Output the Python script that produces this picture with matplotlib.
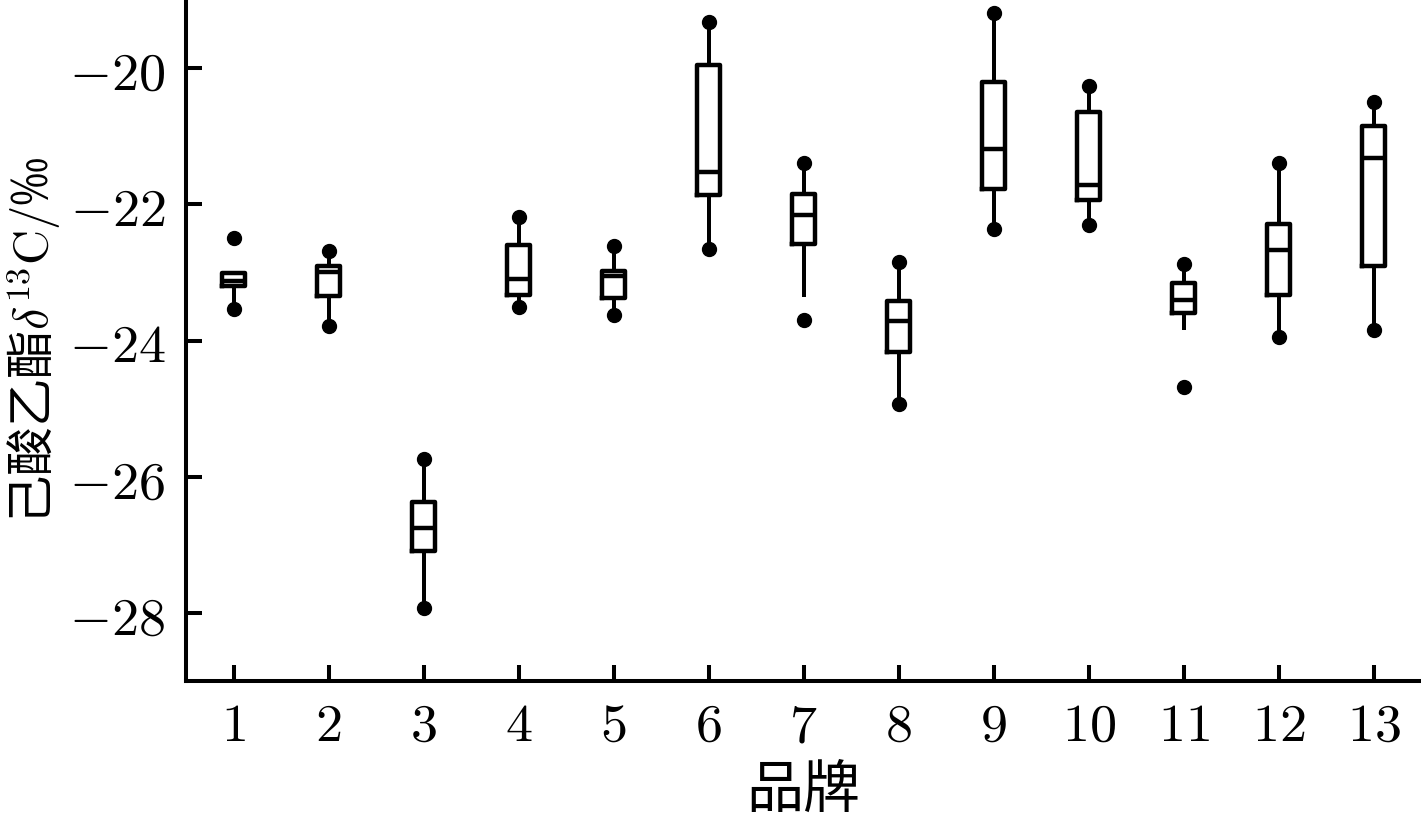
import matplotlib
matplotlib.use("Agg")
import matplotlib.pyplot as plt

plt.rcParams['mathtext.fontset'] = 'cm'
plt.rcParams['font.family'] = ['Noto Sans CJK SC', 'DejaVu Sans']

# brand number and box statistics (δ13C, per mil)
brands = list(range(1, 14))
q1 = [-23.20, -23.35, -27.09, -23.33, -23.38, -21.86, -22.58, -24.17, -21.78, -21.93, -23.59, -23.33, -22.90]
med = [-23.13, -22.99, -26.75, -23.09, -23.05, -21.52, -22.15, -23.71, -21.18, -21.72, -23.40, -22.67, -21.32]
q3 = [-23.01, -22.90, -26.36, -22.60, -22.97, -19.95, -21.84, -23.42, -20.20, -20.65, -23.15, -22.28, -20.85]
whislo = [-23.54, -23.78, -27.92, -23.51, -23.62, -22.65, -23.33, -24.93, -22.36, -22.30, -23.81, -23.95, -23.84]
whishi = [-23.01, -22.68, -25.73, -22.19, -22.61, -19.33, -21.39, -22.85, -19.19, -20.26, -22.88, -21.39, -20.50]
vmin = [-23.54, -23.78, -27.92, -23.51, -23.62, -22.65, -23.70, -24.93, -22.36, -22.30, -24.68, -23.95, -23.84]
vmax = [-22.50, -22.68, -25.73, -22.19, -22.61, -19.33, -21.39, -22.85, -19.19, -20.26, -22.88, -21.39, -20.50]

yticks = [-28, -26, -24, -22, -20]

stats = []
for i in range(len(brands)):
    stats.append(dict(med=med[i], q1=q1[i], q3=q3[i],
                      whislo=whislo[i], whishi=whishi[i], fliers=[]))

fig = plt.figure(figsize=(14.21, 8.19), dpi=100)
ax = fig.add_axes([0.131, 0.168, 0.869, 0.832])

lw = 3.2
ax.bxp(stats, positions=brands, widths=0.24, showcaps=False, showfliers=False,
       boxprops=dict(color='black', linewidth=lw),
       whiskerprops=dict(color='black', linewidth=lw * 0.9),
       medianprops=dict(color='black', linewidth=lw))

# min / max points
ax.plot(brands, vmin, 'o', color='black', markersize=10, zorder=3)
ax.plot(brands, vmax, 'o', color='black', markersize=10, zorder=3)

ax.set_xlim(0.5, 13.5)
ax.set_ylim(-29, -19)
ax.set_xticks(brands)
ax.set_xticklabels(['$%d$' % b for b in brands])
ax.set_yticks(yticks)
ax.set_yticklabels(['$%d$' % v for v in yticks])

for s in ['top', 'right']:
    ax.spines[s].set_visible(False)
for s in ['left', 'bottom']:
    ax.spines[s].set_linewidth(2.9)

ax.tick_params(axis='both', direction='in', length=11.5, width=2.9, labelsize=39)
ax.tick_params(axis='x', pad=12)
ax.tick_params(axis='y', pad=15)

ax.set_xlabel('品牌', fontsize=41, labelpad=6)
ax.set_ylabel('己酸乙酯$\\delta^{13}\\mathrm{C}/$‰', fontsize=35, labelpad=4)

fig.savefig('out.png', dpi=100)
